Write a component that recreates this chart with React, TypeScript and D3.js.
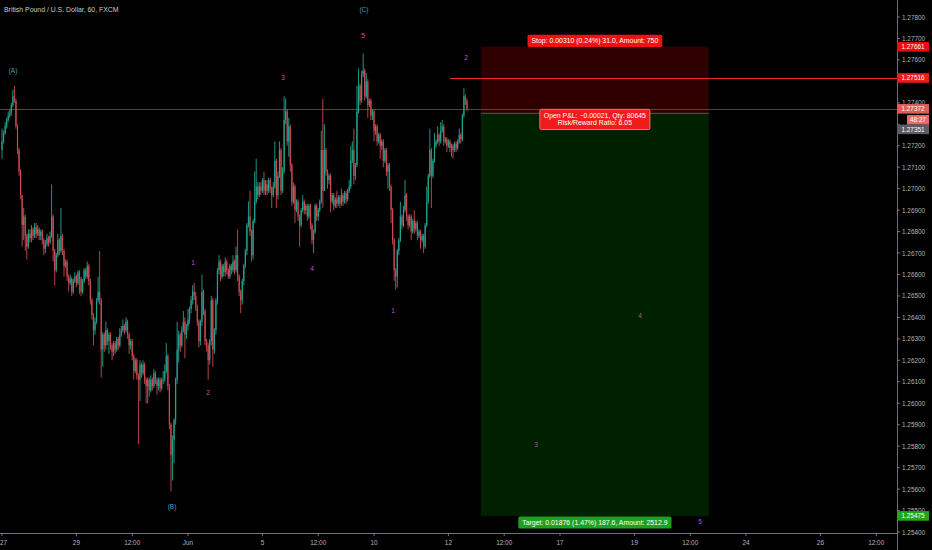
import React, { useEffect, useRef } from 'react'
import * as d3 from 'd3'

const title = 'British Pound / U.S. Dollar, 60, FXCM'

// hourly candles, open = previous close
const firstOpen = 1.2718
const closes = [
  1.2722, 1.2726, 1.2729, 1.2732, 1.2734, 1.2735, 1.2739, 1.2743, 1.2741, 1.2729,
  1.2718, 1.2708, 1.2697, 1.2683, 1.2687, 1.2678, 1.2673, 1.2679, 1.2677, 1.2681,
  1.2678, 1.2682, 1.2679, 1.2681, 1.2678, 1.268, 1.2676, 1.2672, 1.2674, 1.2677,
  1.2675, 1.2678, 1.2687, 1.2671, 1.2662, 1.2669, 1.2676, 1.2671, 1.2678, 1.2671,
  1.2664, 1.2666, 1.2659, 1.2656, 1.2658, 1.2652, 1.2657, 1.2659, 1.2656, 1.2661,
  1.2658, 1.2652, 1.2657, 1.2662, 1.2659, 1.2664, 1.2657, 1.2648, 1.2641, 1.2634,
  1.2638, 1.2648, 1.2652, 1.2648, 1.2625, 1.2632, 1.2627, 1.2634, 1.2629, 1.2632,
  1.2627, 1.2624, 1.2628, 1.2625, 1.263, 1.2627, 1.2632, 1.2634, 1.2636, 1.2634,
  1.2638, 1.2632, 1.2627, 1.2629, 1.2622, 1.2615, 1.262, 1.2613, 1.2611, 1.2618,
  1.2614, 1.2618, 1.2611, 1.2608, 1.2611, 1.2606, 1.2611, 1.2608, 1.2614, 1.2611,
  1.2608, 1.2611, 1.2607, 1.2611, 1.2611, 1.2615, 1.2622, 1.2608, 1.259, 1.2576,
  1.2583, 1.2592, 1.2611, 1.2625, 1.2632, 1.2627, 1.2634, 1.2638, 1.2632, 1.2636,
  1.2639, 1.2644, 1.2648, 1.2652, 1.265, 1.2645, 1.2638, 1.2629, 1.2638, 1.2652,
  1.2643, 1.2629, 1.2627, 1.262, 1.2629, 1.2648, 1.2625, 1.2634, 1.2648, 1.2662,
  1.2666, 1.2659, 1.2664, 1.2661, 1.2666, 1.2662, 1.2659, 1.2664, 1.2662, 1.2666,
  1.2662, 1.2669, 1.2659, 1.2652, 1.2648, 1.2657, 1.2664, 1.2671, 1.2683, 1.2687,
  1.268, 1.2669, 1.2685, 1.2694, 1.2701, 1.2697, 1.2701, 1.2699, 1.2704, 1.2699,
  1.2702, 1.2699, 1.2704, 1.27, 1.2697, 1.2701, 1.2713, 1.2697, 1.2706, 1.2718,
  1.2699, 1.2708, 1.2732, 1.2736, 1.2722, 1.2729, 1.2711, 1.2694, 1.2701, 1.269,
  1.2694, 1.2687, 1.2683, 1.269, 1.2694, 1.269, 1.2692, 1.2687, 1.2692, 1.2683,
  1.2676, 1.268, 1.2692, 1.2687, 1.269, 1.2694, 1.2718, 1.2699, 1.2718, 1.2708,
  1.2704, 1.2706, 1.2694, 1.2697, 1.2692, 1.2695, 1.2693, 1.2696, 1.2693, 1.2697,
  1.2694, 1.2698, 1.2695, 1.2699, 1.2701, 1.2713, 1.2718, 1.2706, 1.2711, 1.2736,
  1.2748, 1.2741, 1.2753, 1.2755, 1.2743, 1.275, 1.2739, 1.2741, 1.2734, 1.2736,
  1.2727, 1.2729, 1.2722, 1.2725, 1.272, 1.2722, 1.2713, 1.2718, 1.2708, 1.2711,
  1.2701, 1.269, 1.2676, 1.2662, 1.2659, 1.2671, 1.2676, 1.2687, 1.2683, 1.269,
  1.2697, 1.2687, 1.2683, 1.2687, 1.268, 1.2685, 1.2681, 1.2684, 1.2678, 1.268,
  1.2676, 1.2678, 1.2673, 1.2683, 1.2694, 1.2706, 1.2718, 1.2706, 1.2713, 1.272,
  1.2722, 1.2725, 1.2722, 1.2727, 1.2729, 1.2722, 1.2723, 1.272, 1.2722, 1.2719,
  1.272, 1.2718, 1.2721, 1.2719, 1.2722, 1.2725, 1.2723, 1.2734, 1.2743, 1.2741,
  1.27372,
]
const highs = [
  1.2728, 1.2727, 1.2731, 1.2733, 1.2736, 1.2737, 1.274, 1.2746, 1.2748, 1.2742,
  1.273, 1.2719, 1.2709, 1.2697, 1.2691, 1.2688, 1.2679, 1.2681, 1.2681, 1.2683,
  1.2682, 1.2684, 1.2684, 1.2683, 1.2682, 1.2681, 1.2681, 1.2677, 1.2676, 1.2679,
  1.2678, 1.268, 1.2702, 1.2688, 1.2672, 1.267, 1.2679, 1.2677, 1.2691, 1.2679,
  1.2672, 1.2667, 1.2667, 1.266, 1.266, 1.2659, 1.2658, 1.2661, 1.266, 1.2662,
  1.2662, 1.2659, 1.2658, 1.2663, 1.2663, 1.2666, 1.2665, 1.2658, 1.2649, 1.2642,
  1.264, 1.2649, 1.2659, 1.2671, 1.2649, 1.2633, 1.2633, 1.2638, 1.2635, 1.2633,
  1.2633, 1.2628, 1.2629, 1.2629, 1.2631, 1.2631, 1.2635, 1.2636, 1.2639, 1.2637,
  1.264, 1.2639, 1.2633, 1.263, 1.263, 1.2623, 1.2621, 1.2621, 1.2614, 1.262,
  1.2619, 1.262, 1.2619, 1.2612, 1.2612, 1.2612, 1.2613, 1.2612, 1.2616, 1.2615,
  1.2612, 1.2612, 1.2612, 1.2612, 1.2615, 1.2618, 1.2628, 1.2623, 1.2609, 1.2591,
  1.2585, 1.2593, 1.2612, 1.2638, 1.2634, 1.2633, 1.2636, 1.2643, 1.264, 1.2637,
  1.2644, 1.2645, 1.265, 1.2655, 1.2656, 1.2652, 1.2646, 1.2639, 1.2639, 1.266,
  1.2653, 1.2644, 1.263, 1.2628, 1.263, 1.265, 1.2649, 1.2635, 1.2649, 1.2663,
  1.2669, 1.2667, 1.2665, 1.2665, 1.2668, 1.2667, 1.2663, 1.2665, 1.2665, 1.2669,
  1.2667, 1.2673, 1.2681, 1.266, 1.2653, 1.2658, 1.2665, 1.2672, 1.2684, 1.2694,
  1.2699, 1.2681, 1.2686, 1.2708, 1.2714, 1.2703, 1.2703, 1.2703, 1.2705, 1.2708,
  1.2704, 1.2704, 1.2705, 1.2705, 1.2701, 1.2703, 1.2722, 1.2714, 1.2708, 1.2722,
  1.2719, 1.271, 1.2743, 1.2742, 1.2737, 1.2733, 1.273, 1.2712, 1.2703, 1.2702,
  1.2695, 1.2695, 1.2688, 1.2691, 1.2697, 1.2695, 1.2693, 1.2693, 1.2693, 1.2693,
  1.2684, 1.2681, 1.2693, 1.2693, 1.2691, 1.2695, 1.2727, 1.2742, 1.273, 1.2719,
  1.2709, 1.2707, 1.2707, 1.2698, 1.2698, 1.2696, 1.2699, 1.2697, 1.2697, 1.27,
  1.2698, 1.2699, 1.2699, 1.27, 1.2704, 1.272, 1.2722, 1.2728, 1.2712, 1.2748,
  1.2756, 1.2749, 1.2755, 1.2763, 1.2756, 1.2754, 1.2751, 1.2742, 1.2742, 1.2737,
  1.2737, 1.273, 1.273, 1.2726, 1.2726, 1.2723, 1.2723, 1.2719, 1.2719, 1.2712,
  1.2712, 1.2702, 1.2691, 1.2677, 1.2663, 1.2672, 1.2677, 1.2694, 1.2688, 1.2692,
  1.2704, 1.2698, 1.2688, 1.2688, 1.2688, 1.2686, 1.269, 1.2685, 1.2685, 1.2681,
  1.2681, 1.2679, 1.2679, 1.2684, 1.2701, 1.2707, 1.2728, 1.2719, 1.2714, 1.2726,
  1.2723, 1.2729, 1.2726, 1.2731, 1.2732, 1.273, 1.2724, 1.2724, 1.2723, 1.2723,
  1.2721, 1.2721, 1.2722, 1.2722, 1.2723, 1.2728, 1.2726, 1.2735, 1.2747, 1.2744,
  1.2742,
]
const lows = [
  1.2714, 1.2721, 1.2725, 1.2728, 1.2731, 1.2733, 1.2734, 1.2738, 1.274, 1.2728,
  1.2716, 1.2706, 1.2695, 1.2673, 1.2676, 1.2671, 1.2667, 1.2672, 1.2675, 1.2675,
  1.2676, 1.2677, 1.2677, 1.2678, 1.2676, 1.2676, 1.2674, 1.2669, 1.267, 1.2673,
  1.2673, 1.2674, 1.2677, 1.2666, 1.2655, 1.2661, 1.2668, 1.2669, 1.267, 1.2669,
  1.2659, 1.2663, 1.2657, 1.2652, 1.2655, 1.265, 1.2651, 1.2656, 1.2654, 1.2655,
  1.2651, 1.265, 1.2651, 1.2656, 1.2658, 1.2658, 1.2655, 1.2646, 1.2639, 1.2627,
  1.2632, 1.2637, 1.2647, 1.2646, 1.2612, 1.2617, 1.2624, 1.2625, 1.2627, 1.2623,
  1.2625, 1.262, 1.2622, 1.2623, 1.2624, 1.2625, 1.2626, 1.2631, 1.2633, 1.2632,
  1.2633, 1.263, 1.2623, 1.2625, 1.262, 1.2611, 1.2614, 1.2611, 1.2581, 1.2601,
  1.2612, 1.2613, 1.2609, 1.26, 1.26, 1.2603, 1.2605, 1.2606, 1.2607, 1.2609,
  1.2604, 1.2606, 1.2605, 1.2606, 1.2609, 1.261, 1.2614, 1.2606, 1.2588, 1.2559,
  1.2564, 1.2572, 1.259, 1.2609, 1.2619, 1.2624, 1.2626, 1.2633, 1.2621, 1.263,
  1.2634, 1.2637, 1.2642, 1.2646, 1.2648, 1.2643, 1.2636, 1.2626, 1.2627, 1.2636,
  1.2641, 1.2627, 1.2624, 1.2611, 1.2618, 1.2627, 1.2617, 1.2623, 1.2632, 1.2646,
  1.266, 1.2657, 1.2658, 1.2659, 1.2659, 1.266, 1.2658, 1.2658, 1.266, 1.2661,
  1.266, 1.2661, 1.2657, 1.265, 1.2642, 1.2646, 1.2655, 1.2663, 1.2669, 1.2682,
  1.2678, 1.2666, 1.2667, 1.2684, 1.2693, 1.2695, 1.2696, 1.2697, 1.2698, 1.2697,
  1.2697, 1.2697, 1.2698, 1.2698, 1.2691, 1.2696, 1.27, 1.2691, 1.2695, 1.2705,
  1.2697, 1.2698, 1.2707, 1.273, 1.272, 1.2715, 1.2708, 1.2692, 1.2693, 1.2684,
  1.2689, 1.2685, 1.2673, 1.2682, 1.2689, 1.2688, 1.2688, 1.2685, 1.2686, 1.2681,
  1.2674, 1.267, 1.2679, 1.2685, 1.2685, 1.2689, 1.2693, 1.2691, 1.2706, 1.2706,
  1.27, 1.2702, 1.2689, 1.2693, 1.269, 1.2691, 1.2691, 1.2692, 1.2691, 1.2692,
  1.2692, 1.2693, 1.2693, 1.2694, 1.2698, 1.27, 1.2712, 1.2702, 1.2704, 1.271,
  1.2735, 1.2739, 1.274, 1.2752, 1.2741, 1.2742, 1.2733, 1.2738, 1.2732, 1.2732,
  1.2722, 1.2725, 1.272, 1.2721, 1.2714, 1.2718, 1.271, 1.2712, 1.2706, 1.27,
  1.2699, 1.2684, 1.2674, 1.2657, 1.2653, 1.2654, 1.2669, 1.2675, 1.2681, 1.2682,
  1.2689, 1.2685, 1.2681, 1.2682, 1.2676, 1.2679, 1.2679, 1.268, 1.2676, 1.2677,
  1.2672, 1.2675, 1.267, 1.2672, 1.2682, 1.2693, 1.2705, 1.2691, 1.2705, 1.2712,
  1.2719, 1.2721, 1.272, 1.2721, 1.2726, 1.272, 1.2721, 1.2717, 1.2719, 1.2717,
  1.2715, 1.2714, 1.2717, 1.2717, 1.2718, 1.2721, 1.2721, 1.2722, 1.2733, 1.2739,
  1.2736,
]

const priceTicks = [
  1.254, 1.255, 1.256, 1.257, 1.258, 1.259, 1.26, 1.261, 1.262, 1.263, 1.264, 1.265, 1.266,
  1.267, 1.268, 1.269, 1.27, 1.271, 1.272, 1.273, 1.274, 1.275, 1.276, 1.277, 1.278,
]

// bar index of each time-axis label (weekends skipped)
const timeTickIndex = [0, 48, 84, 120, 168, 204, 240, 288, 324, 360, 408, 444, 480, 528, 564]
const timeTickLabels = ['27', '29', '12:00', 'Jun', '5', '12:00', '10', '12', '12:00', '17', '19', '12:00', '24', '26', '12:00']

// Elliott wave marks
const waveText = ['(A)', '(B)', '(C)', '1', '2', '3', '4', '5', '1', '2', '3', '4', '5']
const waveIndex = [7.1, 109.7, 233.5, 123.2, 132.9, 181.3, 200, 232.9, 252.3, 299.4, 344.5, 411.6, 450.3]
const wavePrice = [1.27553, 1.25517, 1.27837, 1.26658, 1.26048, 1.27516, 1.2663, 1.27716, 1.2643, 1.27609, 1.2581, 1.26407, 1.25451]

// short position tool
const entryPrice = 1.27351
const stopPrice = 1.27661
const targetPrice = 1.25475
const positionStart = 309
const positionEnd = 456
const stopText = 'Stop: 0.00310 (0.24%) 31.0, Amount: 750'
const pnlText = ['Open P&L: \u22120.00021, Qty: 80645', 'Risk/Reward Ratio: 6.05']
const targetText = 'Target: 0.01876 (1.47%) 187.6, Amount: 2512.9'

const lastPrice = 1.27372
const levelPrice = 1.27516
const levelStart = 289
const countdown = '48:27'

const W = 932
const H = 550
const plotRight = 897
const plotBottom = 533
const font = '"Liberation Sans", Arial, sans-serif'

export default function App() {
  const svgRef = useRef<SVGSVGElement>(null)

  useEffect(() => {
    if (!svgRef.current) return
    const svg = d3.select(svgRef.current)
    svg.selectAll('*').remove()

    const x = d3.scaleLinear().domain([0, 577.4]).range([2, plotRight])
    const y = d3.scaleLinear().domain([1.254, 1.278]).range([532, 17])

    svg.append('rect').attr('width', W).attr('height', H).attr('fill', '#000')

    svg.append('clipPath').attr('id', 'plot')
      .append('rect').attr('width', plotRight).attr('height', plotBottom)

    const plot = svg.append('g').attr('clip-path', 'url(#plot)')

    // current price line
    plot.append('line')
      .attr('x1', 0).attr('x2', plotRight)
      .attr('y1', Math.round(y(lastPrice)) + 0.5).attr('y2', Math.round(y(lastPrice)) + 0.5)
      .attr('stroke', '#8c2b2b').attr('stroke-width', 1)

    // candles
    const bars = closes.map((c, i) => {
      const o = i === 0 ? firstOpen : closes[i - 1]
      return { i, o, c, h: Math.max(highs[i], o, c), l: Math.min(lows[i], o, c) }
    })
    const col = (d: { o: number; c: number }) => (d.c >= d.o ? '#22a392' : '#cf4a4f')

    plot.append('g').selectAll('line').data(bars).join('line')
      .attr('x1', (d) => x(d.i)).attr('x2', (d) => x(d.i))
      .attr('y1', (d) => y(d.h)).attr('y2', (d) => y(d.l))
      .attr('stroke', col).attr('stroke-width', 0.9)

    plot.append('g').selectAll('rect').data(bars).join('rect')
      .attr('x', (d) => x(d.i) - 0.6)
      .attr('width', 1.2)
      .attr('y', (d) => y(Math.max(d.o, d.c)))
      .attr('height', (d) => Math.max(0.8, Math.abs(y(d.o) - y(d.c))))
      .attr('fill', col)

    // wave labels
    plot.append('g').selectAll('text').data(waveText).join('text')
      .attr('x', (d, i) => x(waveIndex[i]))
      .attr('y', (d, i) => y(wavePrice[i]))
      .attr('text-anchor', 'middle')
      .attr('dominant-baseline', 'central')
      .style('font-family', font)
      .style('font-size', '6.5px')
      .style('fill', (d) => (d.startsWith('(') ? '#4b9fc4' : '#c455c8'))
      .text((d) => d)

    // position zones
    const px0 = x(positionStart)
    const px1 = x(positionEnd)
    const pw = px1 - px0
    plot.append('rect')
      .attr('x', px0).attr('width', pw)
      .attr('y', y(stopPrice)).attr('height', y(entryPrice) - y(stopPrice))
      .attr('fill', 'rgba(255,0,0,0.19)')
    plot.append('rect')
      .attr('x', px0).attr('width', pw)
      .attr('y', y(entryPrice)).attr('height', y(targetPrice) - y(entryPrice))
      .attr('fill', 'rgba(0,150,0,0.22)')
    plot.append('line')
      .attr('x1', px0).attr('x2', px1)
      .attr('y1', y(entryPrice)).attr('y2', y(entryPrice))
      .attr('stroke', '#6a6a6a').attr('stroke-width', 0.8)

    // horizontal level
    plot.append('line')
      .attr('x1', x(levelStart)).attr('x2', plotRight)
      .attr('y1', Math.round(y(levelPrice)) + 0.5).attr('y2', Math.round(y(levelPrice)) + 0.5)
      .attr('stroke', '#f02a2a').attr('stroke-width', 1)

    const mid = (px0 + px1) / 2

    const labelBox = (lines: string[], top: number, fill: string, stroke: string | null) => {
      const g = svg.append('g')
      const rect = g.append('rect')
      const texts = lines.map((t, k) =>
        g.append('text')
          .attr('x', mid)
          .attr('y', top + 8.3 + k * 7.6)
          .attr('text-anchor', 'middle')
          .style('font-family', font)
          .style('font-size', '6.9px')
          .style('fill', '#fff')
          .text(t)
      )
      const w = Math.max(...texts.map((t) => (t.node() as SVGTextElement).getComputedTextLength()))
      rect.attr('x', mid - w / 2 - 4).attr('width', w + 8)
        .attr('y', top).attr('height', 4 + lines.length * 7.6 + (lines.length > 1 ? 1 : 0.5))
        .attr('rx', 1.5)
        .attr('fill', fill)
      if (stroke) rect.attr('stroke', stroke).attr('stroke-width', 0.8)
    }

    labelBox([stopText], y(stopPrice) - 12, '#f01212', null)
    labelBox(pnlText, y(entryPrice) - 4, '#f01c1c', '#ff8a8a')
    labelBox([targetText], y(targetPrice) + 0.5, '#1fa01f', null)

    // title
    svg.append('text')
      .attr('x', 4).attr('y', 11.5)
      .style('font-family', font).style('font-size', '6.9px')
      .style('fill', '#c9cbd1')
      .text(title)

    // axes
    svg.append('line')
      .attr('x1', plotRight + 0.5).attr('x2', plotRight + 0.5)
      .attr('y1', 0).attr('y2', H)
      .attr('stroke', '#6b6e78')
    svg.append('line')
      .attr('x1', 0).attr('x2', plotRight)
      .attr('y1', plotBottom + 0.5).attr('y2', plotBottom + 0.5)
      .attr('stroke', '#6b6e78')

    // labels hidden by a price tag are not drawn
    const tagPrices = [stopPrice, levelPrice, lastPrice, entryPrice, targetPrice]
    const covered = (p: number) =>
      tagPrices.some((t) => Math.abs(y(t) - y(p)) < 4) ||
      (y(p) > y(lastPrice) + 5 && y(p) < y(lastPrice) + 25)

    const yAxis = svg.append('g')
    priceTicks.forEach((p) => {
      const yy = y(p)
      yAxis.append('line')
        .attr('x1', plotRight).attr('x2', plotRight + 3)
        .attr('y1', yy).attr('y2', yy)
        .attr('stroke', '#8a8d96').attr('stroke-width', 0.8)
      if (covered(p)) return
      yAxis.append('text')
        .attr('x', plotRight + 5).attr('y', yy)
        .attr('dominant-baseline', 'central')
        .style('font-family', font).style('font-size', '6.4px')
        .style('fill', '#b2b5be')
        .text(p.toFixed(5))
    })

    const xAxis = svg.append('g')
    timeTickIndex.forEach((idx, k) => {
      const xx = x(idx)
      xAxis.append('line')
        .attr('x1', xx).attr('x2', xx)
        .attr('y1', plotBottom).attr('y2', plotBottom + 3)
        .attr('stroke', '#8a8d96').attr('stroke-width', 0.8)
      xAxis.append('text')
        .attr('x', k === 0 ? 0 : xx).attr('y', 544.5)
        .attr('text-anchor', k === 0 ? 'start' : 'middle')
        .style('font-family', font).style('font-size', '6.4px')
        .style('fill', '#b2b5be')
        .text(timeTickLabels[k])
    })

    // price tags on the axis
    const tag = (cy: number, text: string, fill: string, left = plotRight) => {
      svg.append('rect')
        .attr('x', left).attr('width', 929 - left)
        .attr('y', cy - 4.8).attr('height', 9.6)
        .attr('fill', fill)
      svg.append('text')
        .attr('x', (left + 929) / 2).attr('y', cy)
        .attr('text-anchor', 'middle')
        .attr('dominant-baseline', 'central')
        .style('font-family', font).style('font-size', '6.4px')
        .style('fill', '#fff')
        .text(text)
    }
    tag(y(stopPrice), stopPrice.toFixed(5), '#f00a0a')
    tag(y(levelPrice), levelPrice.toFixed(5), '#f01a1a')
    tag(y(lastPrice), lastPrice.toFixed(5), '#e45a5a')
    tag(y(lastPrice) + 11, countdown, '#e86a6a', 907)
    tag(y(lastPrice) + 20.5, entryPrice.toFixed(5), '#5b5d64')
    tag(y(targetPrice), targetPrice.toFixed(5), '#1fa51f')
  }, [])

  return (
    <div style={{ position: 'absolute', left: 0, top: 0, width: W, height: H, background: '#000' }}>
      <svg ref={svgRef} width={W} height={H} style={{ display: 'block' }} />
    </div>
  )
}
